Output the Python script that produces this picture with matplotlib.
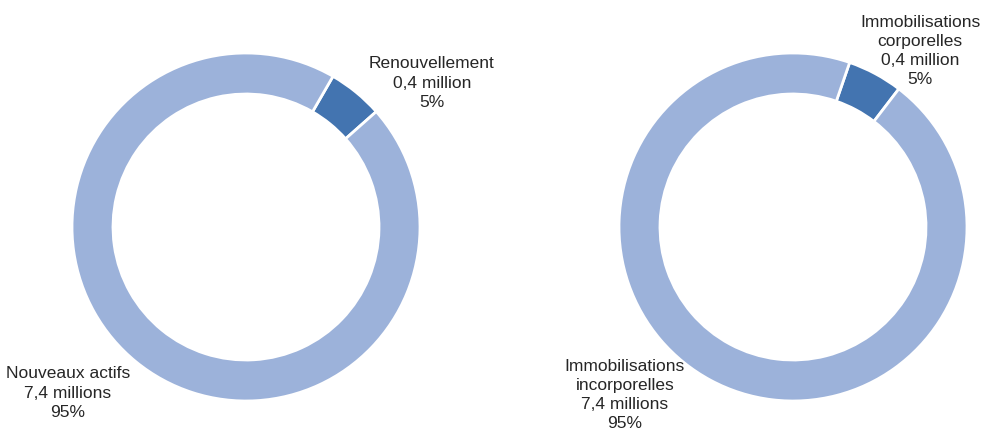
import matplotlib
matplotlib.use("Agg")
import matplotlib.pyplot as plt

plt.rcParams['font.family'] = ['Liberation Sans', 'DejaVu Sans']

# left donut: type of asset
left_labels = ["Renouvellement\n0,4 million\n5%", "Nouveaux actifs\n7,4 millions\n95%"]
left_values = [0.4, 7.4]

# right donut: kind of fixed asset
right_labels = ["Immobilisations\ncorporelles\n0,4 million\n5%",
                "Immobilisations\nincorporelles\n7,4 millions\n95%"]
right_values = [0.4, 7.4]

colors = ['#4374B0', '#9CB2DA']

W, H = 983, 432
fig = plt.figure(figsize=(W / 100, H / 100), dpi=100)
ax = fig.add_axes([0, 0, 1, 1])

R = 174
width = 41


def donut(cx, cy, values, start):
    ax.pie(values, colors=colors, startangle=start, counterclock=False,
           center=(cx, H - cy), radius=R,
           wedgeprops=dict(width=width, edgecolor='white', linewidth=2))


donut(246, 227, left_values, 60)
donut(793, 227, right_values, 71)

ax.set_xlim(0, W)
ax.set_ylim(0, H)
ax.set_aspect('equal')
ax.axis('off')

fs = 12.5
ls = 1.36
tc = '#262626'
ax.text(432, H - 83, left_labels[0], ha='center', va='center', fontsize=fs, linespacing=ls, color=tc)
ax.text(68, H - 393, left_labels[1], ha='center', va='center', fontsize=fs, linespacing=ls, color=tc)
ax.text(920, H - 51, right_labels[0], ha='center', va='center', fontsize=fs, linespacing=ls, color=tc)
ax.text(625, H - 395, right_labels[1], ha='center', va='center', fontsize=fs, linespacing=ls, color=tc)

fig.savefig("out.png", dpi=100)
